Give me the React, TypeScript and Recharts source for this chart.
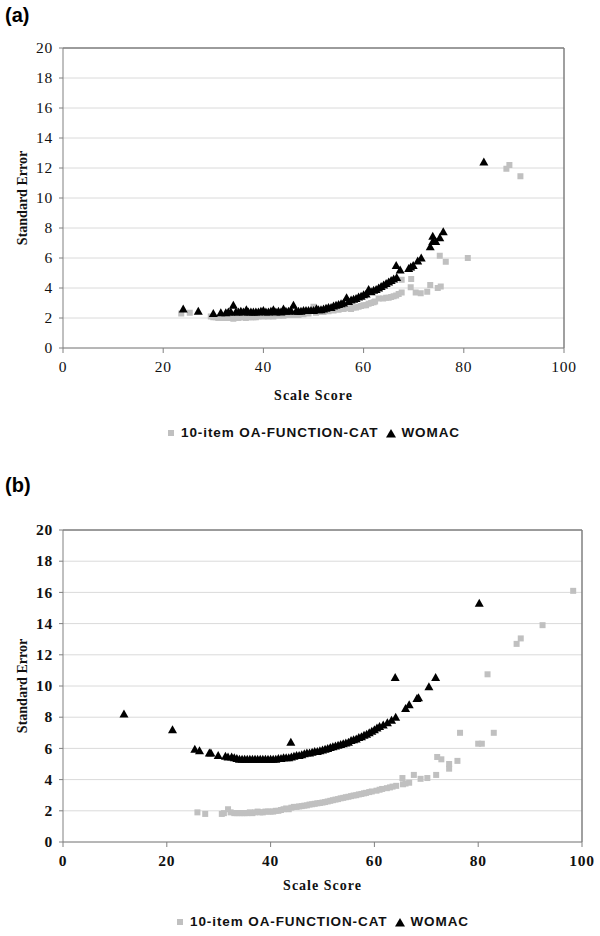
import { ScatterChart, Scatter, XAxis, YAxis, CartesianGrid, ReferenceLine, Label } from 'recharts'

// (a) 10-item OA-FUNCTION-CAT, [scale score, standard error]
const catA: [number, number][] = [
  [23.6, 2.3], [25.3, 2.35], [29.5, 2.1], [30, 2.05], [30.5, 2.05], [31, 2.0], [31.5, 2.05], [32, 2.0],
  [32.5, 2.0], [33, 2.0], [33.5, 2.05], [34, 1.95], [34.5, 2.0], [35, 2.0], [35.5, 2.05], [36, 2.05],
  [36.5, 2.0], [37, 2.05], [37.5, 2.05], [38, 2.05], [38.5, 2.05], [39, 2.1], [40, 2.1], [41, 2.1],
  [42, 2.1], [43, 2.15], [44, 2.15], [45, 2.2], [46, 2.2], [47, 2.2], [48, 2.25], [49, 2.3], [50, 2.75],
  [50.5, 2.35], [51, 2.4], [52, 2.4], [53, 2.45], [54, 2.5], [55, 2.55], [56, 2.6], [57, 2.65],
  [57.5, 2.6], [58, 2.7], [58.5, 2.7], [59, 2.75], [59.5, 2.8], [60, 2.85], [60.5, 2.85], [61, 2.95],
  [61.5, 3.0], [62, 3.05], [62.3, 3.1], [63, 3.3], [63.9, 3.3], [64.5, 3.35], [65, 3.35], [65.5, 3.4],
  [66, 3.45], [66.5, 3.5], [67, 3.6], [67.6, 3.7], [67.6, 4.55], [69.4, 4.05], [69.5, 4.6], [70.4, 3.7],
  [71.4, 3.65], [72.7, 3.75], [73.3, 4.2], [74.8, 4.0], [75.4, 4.1], [75.2, 6.15], [76.4, 5.75],
  [80.8, 6.0], [88.5, 11.95], [89.1, 12.2], [91.3, 11.45],
]

// (a) WOMAC
const womacA: [number, number][] = [
  [24, 2.6], [27, 2.45], [30, 2.3], [31.5, 2.35], [32.5, 2.35], [33, 2.4], [33.5, 2.4], [34, 2.85],
  [34.5, 2.4], [35, 2.4], [35.5, 2.45], [36, 2.4], [36.6, 2.55], [37, 2.4], [37.5, 2.4], [38, 2.4],
  [38.5, 2.4], [39, 2.4], [39.5, 2.45], [40, 2.5], [40.5, 2.4], [41, 2.4], [41.5, 2.45], [42, 2.55],
  [42.5, 2.4], [43, 2.45], [43.5, 2.4], [44, 2.6], [44.5, 2.45], [45, 2.45], [45.5, 2.5], [46, 2.85],
  [46.5, 2.45], [47, 2.45], [47.5, 2.45], [48, 2.5], [48.5, 2.5], [49, 2.5], [49.5, 2.5], [50, 2.5],
  [50.6, 2.62], [51, 2.55], [51.5, 2.55], [52, 2.6], [52.5, 2.65], [53, 2.7], [53.5, 2.7], [54, 2.8],
  [54.5, 2.85], [55, 2.9], [55.5, 2.95], [56, 3.0], [56.6, 3.35], [57, 3.1], [57.5, 3.2], [58, 3.25],
  [58.5, 3.3], [59, 3.4], [59.5, 3.45], [60, 3.55], [60.5, 3.6], [61, 3.9], [61.5, 3.75], [62, 3.85],
  [62.5, 3.9], [63, 4.0], [63.5, 4.1], [64, 4.2], [64.5, 4.3], [65, 4.4], [65.5, 4.5], [66, 4.6],
  [66.5, 5.5], [66.6, 4.7], [67.3, 5.2], [69, 5.3], [69.4, 5.4], [69.9, 5.5], [70.8, 5.8], [71.5, 6.0],
  [73.3, 6.75], [73.8, 7.1], [73.8, 7.45], [74.4, 7.1], [75.2, 7.35], [75.9, 7.75], [84, 12.4],
]

// (b) 10-item OA-FUNCTION-CAT
const catB: [number, number][] = [
  [25.9, 1.9], [27.4, 1.8], [30.6, 1.8], [31, 1.85], [31.8, 2.1], [32.3, 1.9], [33, 1.85], [33.5, 1.85],
  [34, 1.85], [34.5, 1.85], [35, 1.85], [35.5, 1.85], [36, 1.9], [36.5, 1.85], [37, 1.9], [37.5, 1.95],
  [38, 1.9], [38.5, 1.9], [39, 1.95], [39.5, 1.95], [40, 1.95], [40.5, 1.95], [41, 2.0], [41.5, 2.0],
  [42, 2.05], [42.5, 2.1], [43, 2.15], [43.5, 2.1], [44, 2.2], [44.5, 2.25], [45, 2.25], [45.5, 2.28],
  [46, 2.3], [46.5, 2.33], [47, 2.35], [47.5, 2.4], [48, 2.42], [48.5, 2.45], [49, 2.48], [49.5, 2.5],
  [50, 2.53], [50.5, 2.56], [51, 2.6], [51.5, 2.64], [52, 2.68], [52.5, 2.72], [53, 2.75], [53.5, 2.8],
  [54, 2.83], [54.5, 2.87], [55, 2.9], [55.5, 2.94], [56, 2.98], [56.5, 3.0], [57, 3.05], [57.5, 3.08],
  [58, 3.12], [58.4, 3.15], [59, 3.2], [59.5, 3.24], [60.4, 3.29], [61, 3.35], [61.5, 3.4], [62.4, 3.45],
  [63, 3.5], [63.5, 3.55], [64.2, 3.6], [65.4, 4.1], [65.5, 3.7], [66, 3.75], [66.7, 3.8], [67.6, 4.3],
  [68.9, 4.05], [70.2, 4.1], [71.9, 4.3], [72.1, 5.45], [72.9, 5.3], [74.4, 5.0], [74.4, 4.7], [76, 5.2],
  [76.5, 7.0], [80, 6.3], [80.7, 6.3], [81.8, 10.75], [83, 7.0], [87.4, 12.7], [88.2, 13.05],
  [92.4, 13.9], [98.3, 16.1],
]

// (b) WOMAC
const womacB: [number, number][] = [
  [11.75, 8.2], [21.1, 7.2], [25.4, 5.95], [26.3, 5.85], [28.2, 5.7], [28.5, 5.7], [29.9, 5.55],
  [31.3, 5.5], [31.8, 5.45], [32.5, 5.45], [33, 5.4], [33.5, 5.35], [34, 5.3], [34.5, 5.3], [35, 5.3],
  [35.5, 5.3], [36, 5.3], [36.5, 5.3], [37, 5.3], [37.5, 5.3], [38, 5.3], [38.5, 5.3], [39, 5.3],
  [39.5, 5.3], [40, 5.3], [40.5, 5.3], [41, 5.3], [41.5, 5.35], [42, 5.35], [42.5, 5.4], [43, 5.4],
  [43.5, 5.4], [43.9, 6.4], [44, 5.45], [44.5, 5.5], [45, 5.55], [45.5, 5.55], [46, 5.6], [46.5, 5.65],
  [47, 5.7], [47.5, 5.7], [48, 5.75], [48.5, 5.8], [49, 5.8], [49.5, 5.85], [50, 5.9], [50.5, 5.95],
  [51, 6.0], [51.5, 6.05], [52, 6.1], [52.5, 6.15], [53, 6.2], [53.5, 6.25], [54, 6.3], [54.5, 6.35],
  [55, 6.4], [55.5, 6.5], [56, 6.55], [56.5, 6.6], [57, 6.7], [57.5, 6.75], [58, 6.85], [58.5, 6.9],
  [59, 7.0], [59.5, 7.1], [60, 7.2], [60.5, 7.3], [61, 7.4], [61.7, 7.5], [62.5, 7.65], [63.3, 7.8],
  [64.1, 8.0], [64, 10.55], [66, 8.55], [66.7, 8.8], [68.2, 9.2], [68.5, 9.25], [70.5, 9.95],
  [71.8, 10.55], [80.2, 15.3],
]

const xTicks = [0, 20, 40, 60, 80, 100]
const yTicks = [0, 2, 4, 6, 8, 10, 12, 14, 16, 18, 20]
const catName = '10-item OA-FUNCTION-CAT'
const womacName = 'WOMAC'

const toPoints = (arr: [number, number][]) => arr.map(([x, y]) => ({ x, y }))

const AXIS = '#808080'
const GRID = '#dadada'
const GREY = '#c0c0c0'
const SERIF = '"Liberation Serif", "Times New Roman", serif'
const SANS = '"Liberation Sans", Arial, sans-serif'

const Square = (p: any) => <rect x={p.cx - 3} y={p.cy - 3} width={6} height={6} fill={GREY} />
const Triangle = (p: any) => (
  <path d={`M${p.cx},${p.cy - 4.5}L${p.cx + 4.5},${p.cy + 3.5}L${p.cx - 4.5},${p.cy + 3.5}Z`} fill="#000" />
)

const tickStyle = (bold: boolean) => ({
  fontFamily: SERIF, fontSize: 15.5, fontWeight: bold ? 700 : 400, letterSpacing: 0.8, fill: '#111',
})

interface PanelProps {
  tag: string
  top: number
  height: number
  margin: { top: number; right: number; bottom: number; left: number }
  cat: [number, number][]
  womac: [number, number][]
  boldTicks: boolean
  scaleY: number
  legendY: number
}

function Panel({ tag, top, height, margin, cat, womac, boldTicks, scaleY, legendY }: PanelProps) {
  const plotTop = margin.top
  const plotBottom = height - margin.bottom - 30
  const plotMidY = (plotTop + plotBottom) / 2
  const plotMidX = (63 + 600 - margin.right) / 2
  const ts = tickStyle(boldTicks)

  const XTick = (p: any) => (
    <text x={p.x} y={p.y} dy="0.72em" textAnchor="middle" style={ts}>{p.payload.value}</text>
  )
  const YTick = (p: any) => (
    <text x={p.x} y={p.y} dy="0.34em" textAnchor="end" style={ts}>{p.payload.value}</text>
  )

  return (
    <div style={{ position: 'absolute', left: 0, top, width: 600, height }}>
      <div style={{ position: 'absolute', left: 5, top: 4, fontFamily: SANS, fontWeight: 700, fontSize: 20 }}>{tag}</div>
      <ScatterChart width={600} height={height} margin={margin}>
        <CartesianGrid vertical={false} stroke={GRID} />
        <XAxis
          type="number"
          dataKey="x"
          domain={[0, 100]}
          ticks={xTicks}
          interval={0}
          height={30}
          stroke={AXIS}
          tickSize={5}
          tickMargin={8}
          tick={XTick}
        >
          <Label
            content={() => (
              <text x={plotMidX} y={scaleY} textAnchor="middle" dominantBaseline="central"
                style={{ fontFamily: SERIF, fontWeight: 700, fontSize: 14, letterSpacing: 1, fill: '#111' }}>
                Scale Score
              </text>
            )}
          />
        </XAxis>
        <YAxis
          type="number"
          dataKey="y"
          domain={[0, 20]}
          ticks={yTicks}
          interval={0}
          width={63}
          stroke={AXIS}
          tickSize={4}
          tickMargin={6}
          tick={YTick}
        >
          <Label
            content={() => (
              <text x={22} y={plotMidY} textAnchor="middle" dominantBaseline="central"
                transform={`rotate(-90 22 ${plotMidY})`}
                style={{ fontFamily: SERIF, fontWeight: 700, fontSize: 14, fill: '#111' }}>
                Standard Error
              </text>
            )}
          />
        </YAxis>
        <ReferenceLine y={20} stroke={AXIS} strokeWidth={1.5} />
        <ReferenceLine x={100} stroke={AXIS} strokeWidth={1.5} />
        <Scatter name={catName} data={toPoints(cat)} shape={Square} isAnimationActive={false} />
        <Scatter name={womacName} data={toPoints(womac)} shape={Triangle} isAnimationActive={false} />
      </ScatterChart>
      <div
        style={{
          position: 'absolute', left: 0, width: plotMidX * 2, top: legendY - 9, textAlign: 'center',
          fontFamily: SANS, fontWeight: 700, fontSize: 13.5, letterSpacing: 0.9, color: '#111', whiteSpace: 'nowrap',
        }}
      >
        <svg width={8} height={8} style={{ marginRight: 6, verticalAlign: 'middle' }}>
          <rect x={1} y={1} width={6} height={6} fill={GREY} />
        </svg>
        {catName}
        <svg width={10} height={9} style={{ marginLeft: 8, marginRight: 5, verticalAlign: 'middle' }}>
          <path d="M5,0L10,8.5L0,8.5Z" fill="#000" />
        </svg>
        {womacName}
      </div>
    </div>
  )
}

export default function App() {
  return (
    <div style={{ position: 'absolute', left: 0, top: 0, width: 600, height: 936, background: '#fff' }}>
      <Panel
        tag="(a)"
        top={0}
        height={470}
        margin={{ top: 48, right: 36, bottom: 92, left: 0 }}
        cat={catA}
        womac={womacA}
        boldTicks={false}
        scaleY={395}
        legendY={434}
      />
      <Panel
        tag="(b)"
        top={470}
        height={466}
        margin={{ top: 60, right: 18, bottom: 64, left: 0 }}
        cat={catB}
        womac={womacB}
        boldTicks={true}
        scaleY={415}
        legendY={453}
      />
    </div>
  )
}
